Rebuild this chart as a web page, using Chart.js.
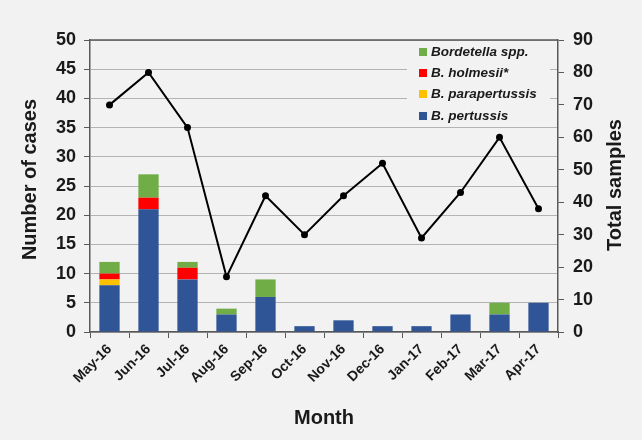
<!DOCTYPE html>
<html>
<head>
<meta charset="utf-8">
<script src="https://cdn.jsdelivr.net/npm/chart.js@4.4.0/dist/chart.umd.min.js"></script>
<style>
  body { margin: 0; background: #f2f2f2; }
  #wrap { position: relative; width: 642px; height: 440px; }
  #legend {
    position: absolute; left: 407px; top: 41px; width: 143px; height: 81px;
    background: #f2f2f2;
    font: italic bold 13.5px "Liberation Sans", Arial, sans-serif; color: #1a1a1a;
  }
  .item { position: absolute; left: 12px; height: 21px; line-height: 21px; white-space: nowrap; }
  .sw { display: inline-block; width: 8px; height: 8px; margin-right: 4px; vertical-align: 0px; }
</style>
</head>
<body>
<div id="wrap">
  <canvas id="myChart" width="642" height="440"></canvas>
  <div id="legend"></div>
</div>
<script>
// chart data
const months = ["May-16", "Jun-16", "Jul-16", "Aug-16", "Sep-16", "Oct-16",
  "Nov-16", "Dec-16", "Jan-17", "Feb-17", "Mar-17", "Apr-17"];
const pertussis     = [8, 21, 9, 3, 6, 1, 2, 1, 1, 3, 3, 5];
const parapertussis = [1, 0, 0, 0, 0, 0, 0, 0, 0, 0, 0, 0];
const holmesii      = [1, 2, 2, 0, 0, 0, 0, 0, 0, 0, 0, 0];
const bordetellaSpp = [2, 4, 1, 1, 3, 0, 0, 0, 0, 0, 2, 0];
const totalSamples  = [70, 80, 63, 17, 42, 30, 42, 52, 29, 43, 60, 38];
const caseTicks   = [0, 5, 10, 15, 20, 25, 30, 35, 40, 45, 50];
const sampleTicks = [0, 10, 20, 30, 40, 50, 60, 70, 80, 90];

const FONT = "'Liberation Sans', Arial, sans-serif";
const TEXT = "#1a1a1a";
const AXIS = "#595959";
Chart.defaults.font.family = FONT;
Chart.defaults.color = TEXT;

// legend (top to bottom, reversed stack order)
const legendItems = [
  ["Bordetella spp.", "#70ad47"],
  ["B. holmesii*", "#ff0000"],
  ["B. parapertussis", "#ffc000"],
  ["B. pertussis", "#2f5597"]
];
const legendDiv = document.getElementById("legend");
legendItems.forEach(function (it, i) {
  const d = document.createElement("div");
  d.className = "item";
  d.style.top = (i * 21.2) + "px";
  d.innerHTML = '<span class="sw" style="background:' + it[1] + '"></span>' + it[0];
  legendDiv.appendChild(d);
});

// side titles, read bottom to top, plus top border of plot
const sideTitles = {
  id: "sideTitles",
  afterDraw(chart) {
    const ctx = chart.ctx;
    const a = chart.chartArea;
    ctx.save();
    ctx.strokeStyle = AXIS;
    ctx.lineWidth = 1.5;
    ctx.beginPath();
    ctx.moveTo(a.left, a.top);
    ctx.lineTo(a.right, a.top);
    ctx.stroke();
    ctx.fillStyle = TEXT;
    ctx.font = "bold 20px " + FONT;
    ctx.textAlign = "center";
    ctx.textBaseline = "middle";
    ctx.translate(30, 179.5);
    ctx.rotate(-Math.PI / 2);
    ctx.fillText("Number of cases", 0, 0);
    ctx.restore();
    ctx.save();
    ctx.fillStyle = TEXT;
    ctx.font = "bold 20px " + FONT;
    ctx.textAlign = "center";
    ctx.textBaseline = "middle";
    ctx.translate(615, 185);
    ctx.rotate(-Math.PI / 2);
    ctx.fillText("Total samples", 0, 0);
    ctx.restore();
  }
};

function barSet(label, data, color) {
  return {
    type: "bar", label: label, data: data, backgroundColor: color,
    borderWidth: 0, stack: "cases", yAxisID: "y", order: 1,
    barPercentage: 0.52, categoryPercentage: 1
  };
}

const myChart = new Chart("myChart", {
  type: "bar",
  data: {
    labels: months,
    datasets: [
      {
        type: "line", label: "Total samples", data: totalSamples, yAxisID: "y1",
        borderColor: "#000", borderWidth: 2, pointRadius: 3.5,
        pointBackgroundColor: "#000", pointBorderWidth: 0, tension: 0, order: 0
      },
      barSet("B. pertussis", pertussis, "#2f5597"),
      barSet("B. parapertussis", parapertussis, "#ffc000"),
      barSet("B. holmesii*", holmesii, "#ff0000"),
      barSet("Bordetella spp.", bordetellaSpp, "#70ad47")
    ]
  },
  options: {
    responsive: false,
    animation: false,
    layout: { padding: { top: 40, left: 0, right: 0, bottom: 0 } },
    plugins: { legend: { display: false }, tooltip: { enabled: false } },
    scales: {
      x: {
        stacked: true,
        grid: { display: true, drawOnChartArea: false, tickLength: 6, color: AXIS, offset: true },
        border: { color: AXIS, width: 1.5 },
        ticks: { font: { size: 14, weight: "bold" }, color: TEXT, maxRotation: 45, minRotation: 45, padding: 3 },
        title: { display: true, text: "Month", font: { size: 20, weight: "bold" }, color: TEXT, padding: { top: 0, bottom: 10 } },
        afterFit(s) { s.height = 108; }
      },
      y: {
        stacked: true,
        min: caseTicks[0], max: caseTicks[caseTicks.length - 1],
        afterBuildTicks(s) { s.ticks = caseTicks.map(v => ({ value: v })); },
        ticks: { font: { size: 18, weight: "bold" }, color: TEXT, padding: 8 },
        grid: { color: "#b4b4b4", lineWidth: 1, tickLength: 6, tickColor: AXIS },
        border: { color: AXIS, width: 1.5 },
        afterFit(s) { s.width = 90; }
      },
      y1: {
        position: "right",
        min: sampleTicks[0], max: sampleTicks[sampleTicks.length - 1],
        afterBuildTicks(s) { s.ticks = sampleTicks.map(v => ({ value: v })); },
        ticks: { font: { size: 18, weight: "bold" }, color: TEXT, padding: 9 },
        grid: { drawOnChartArea: false, tickLength: 6, color: AXIS },
        border: { color: AXIS, width: 1.5 },
        afterFit(s) { s.width = 84; }
      }
    }
  },
  plugins: [sideTitles]
});
</script>
</body>
</html>
